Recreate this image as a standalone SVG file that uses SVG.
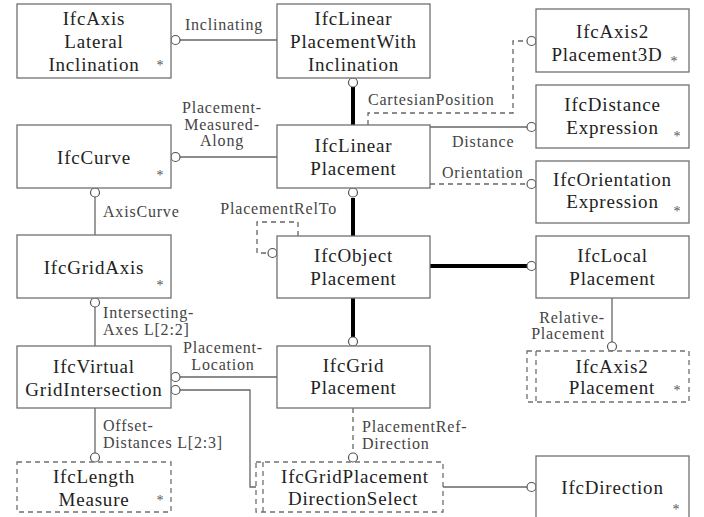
<svg xmlns="http://www.w3.org/2000/svg" width="704" height="517" viewBox="0 0 704 517">
<style>
.box{fill:#fff;stroke:#707070;stroke-width:1.3}
.dbox{fill:none;stroke:#707070;stroke-width:1.3;stroke-dasharray:5,4}
.t{font-family:"Liberation Serif","Times New Roman",serif;font-size:19px;letter-spacing:0.8px;fill:#222;text-anchor:middle}
.st{font-family:"Liberation Serif","Times New Roman",serif;font-size:14px;fill:#555;text-anchor:middle}
.l{font-family:"Liberation Serif","Times New Roman",serif;font-size:16px;letter-spacing:0.8px;fill:#444}
.c{fill:none;stroke:#666;stroke-width:1.3}
.d{fill:none;stroke:#666;stroke-width:1.3;stroke-dasharray:5,4}
.k{fill:none;stroke:#000;stroke-width:4}
.o{fill:#fff;stroke:#555;stroke-width:1.2}
</style>
<rect width="704" height="517" fill="#fff"/>
<g id="connectors">
<line class="c" x1="277" y1="40" x2="180" y2="40"/>
<circle class="o" cx="175.5" cy="40" r="4.5"/>
<text class="l" x="224" y="30" text-anchor="middle">Inclinating</text>
<line class="k" x1="353" y1="125" x2="353" y2="87"/>
<circle class="o" cx="353" cy="82.5" r="4.5"/>
<path class="d" d="M368,125 V113 H513 V41 H527"/>
<circle class="o" cx="531.5" cy="41" r="4.5"/>
<text class="l" x="368" y="105">CartesianPosition</text>
<line class="c" x1="430" y1="127" x2="527" y2="127"/>
<circle class="o" cx="531.5" cy="127" r="4.5"/>
<text class="l" x="452" y="147">Distance</text>
<line class="d" x1="430" y1="184" x2="527" y2="184"/>
<circle class="o" cx="531.5" cy="184" r="4.5"/>
<text class="l" x="442" y="178">Orientation</text>
<line class="c" x1="277" y1="157" x2="180" y2="157"/>
<circle class="o" cx="175.5" cy="157" r="4.5"/>
<text class="l" text-anchor="middle"><tspan x="222" y="113">Placement-</tspan><tspan x="222" y="130">Measured-</tspan><tspan x="222" y="146">Along</tspan></text>
<line class="c" x1="95" y1="235" x2="95" y2="197"/>
<circle class="o" cx="95" cy="192.5" r="4.5"/>
<text class="l" x="103" y="217">AxisCurve</text>
<line class="k" x1="353" y1="198" x2="353" y2="236"/>
<circle class="o" cx="353" cy="192.5" r="4.5"/>
<path class="d" d="M298,236 V222 H257 V253 H268"/>
<circle class="o" cx="272.5" cy="253" r="4.5"/>
<text class="l" x="337" y="214" text-anchor="end">PlacementRelTo</text>
<line class="k" x1="430" y1="266" x2="527" y2="266"/>
<circle class="o" cx="531.5" cy="266" r="4.5"/>
<line class="k" x1="353" y1="298" x2="353" y2="337"/>
<circle class="o" cx="353" cy="341.5" r="4.5"/>
<line class="c" x1="612" y1="298" x2="612" y2="342"/>
<circle class="o" cx="612" cy="346.5" r="4.5"/>
<text class="l" text-anchor="end"><tspan x="605" y="323">Relative-</tspan><tspan x="605" y="339">Placement</tspan></text>
<line class="c" x1="95" y1="346" x2="95" y2="307"/>
<circle class="o" cx="95" cy="302.5" r="4.5"/>
<text class="l"><tspan x="103" y="318">Intersecting-</tspan><tspan x="103" y="335">Axes L[2:2]</tspan></text>
<line class="c" x1="277" y1="377" x2="180" y2="377"/>
<circle class="o" cx="175.5" cy="377" r="4.5"/>
<text class="l" text-anchor="middle"><tspan x="223" y="353">Placement-</tspan><tspan x="223" y="370">Location</tspan></text>
<path class="c" d="M180,390 H250 V487 H256"/>
<circle class="o" cx="175.5" cy="390" r="4.5"/>
<line class="d" x1="353" y1="408" x2="353" y2="453"/>
<circle class="o" cx="353" cy="457.5" r="4.5"/>
<text class="l"><tspan x="362" y="432">PlacementRef-</tspan><tspan x="362" y="449">Direction</tspan></text>
<line class="c" x1="443" y1="487" x2="527" y2="487"/>
<circle class="o" cx="531.5" cy="487" r="4.5"/>
<line class="c" x1="95" y1="408" x2="95" y2="453"/>
<circle class="o" cx="95" cy="457.5" r="4.5"/>
<text class="l"><tspan x="103" y="431">Offset-</tspan><tspan x="103" y="448">Distances L[2:3]</tspan></text>
</g>
<g id="IfcAxisLateralInclination">
<rect class="box" x="17" y="4" width="154" height="74"/>
<text class="t"><tspan x="94" y="25">IfcAxis</tspan><tspan x="94" y="48">Lateral</tspan><tspan x="94" y="71">Inclination</tspan></text>
<text class="st" x="160" y="70">*</text>
</g>
<g id="IfcLinearPlacementWithInclination">
<rect class="box" x="277" y="4" width="153" height="74"/>
<text class="t"><tspan x="353.5" y="25">IfcLinear</tspan><tspan x="353.5" y="48">PlacementWith</tspan><tspan x="353.5" y="71">Inclination</tspan></text>
</g>
<g id="IfcAxis2Placement3D">
<rect class="box" x="536" y="9" width="153" height="63"/>
<text class="t"><tspan x="612.5" y="38">IfcAxis2</tspan><tspan x="607" y="61">Placement3D</tspan></text>
<text class="st" x="674" y="66">*</text>
</g>
<g id="IfcDistanceExpression">
<rect class="box" x="536" y="85" width="153" height="63"/>
<text class="t"><tspan x="612.5" y="111">IfcDistance</tspan><tspan x="612.5" y="134">Expression</tspan></text>
<text class="st" x="677" y="141">*</text>
</g>
<g id="IfcOrientationExpression">
<rect class="box" x="536" y="161" width="153" height="62"/>
<text class="t"><tspan x="612.5" y="186">IfcOrientation</tspan><tspan x="612.5" y="208">Expression</tspan></text>
<text class="st" x="677" y="216">*</text>
</g>
<g id="IfcCurve">
<rect class="box" x="17" y="125" width="154" height="63"/>
<text class="t" x="94" y="164">IfcCurve</text>
<text class="st" x="160" y="180">*</text>
</g>
<g id="IfcLinearPlacement">
<rect class="box" x="277" y="125" width="153" height="63"/>
<text class="t"><tspan x="353.5" y="152">IfcLinear</tspan><tspan x="353.5" y="175">Placement</tspan></text>
</g>
<g id="IfcGridAxis">
<rect class="box" x="17" y="235" width="154" height="63"/>
<text class="t" x="94" y="274">IfcGridAxis</text>
<text class="st" x="160" y="290">*</text>
</g>
<g id="IfcObjectPlacement">
<rect class="box" x="277" y="236" width="153" height="62"/>
<text class="t"><tspan x="353.5" y="262">IfcObject</tspan><tspan x="353.5" y="285">Placement</tspan></text>
</g>
<g id="IfcLocalPlacement">
<rect class="box" x="536" y="236" width="153" height="62"/>
<text class="t"><tspan x="612.5" y="262">IfcLocal</tspan><tspan x="612.5" y="285">Placement</tspan></text>
</g>
<g id="IfcAxis2Placement">
<rect class="dbox" x="527" y="351" width="162" height="51"/>
<line class="dbox" x1="536" y1="351" x2="536" y2="402"/>
<text class="t"><tspan x="612" y="373">IfcAxis2</tspan><tspan x="612" y="394">Placement</tspan></text>
<text class="st" x="677" y="395">*</text>
</g>
<g id="IfcVirtualGridIntersection">
<rect class="box" x="17" y="346" width="154" height="62"/>
<text class="t"><tspan x="94" y="373">IfcVirtual</tspan><tspan x="94" y="396">GridIntersection</tspan></text>
</g>
<g id="IfcGridPlacement">
<rect class="box" x="277" y="346" width="153" height="62"/>
<text class="t"><tspan x="353.5" y="372">IfcGrid</tspan><tspan x="353.5" y="394">Placement</tspan></text>
</g>
<g id="IfcLengthMeasure">
<rect class="dbox" x="17" y="462" width="154" height="50"/>
<text class="t"><tspan x="94" y="483">IfcLength</tspan><tspan x="94" y="506">Measure</tspan></text>
<text class="st" x="160" y="505">*</text>
</g>
<g id="IfcGridPlacementDirectionSelect">
<rect class="dbox" x="256" y="462" width="187" height="50"/>
<line class="dbox" x1="263" y1="462" x2="263" y2="512"/>
<text class="t"><tspan x="355" y="483">IfcGridPlacement</tspan><tspan x="353" y="505">DirectionSelect</tspan></text>
</g>
<g id="IfcDirection">
<rect class="box" x="536" y="456" width="153" height="70"/>
<text class="t" x="612.5" y="494">IfcDirection</text>
<text class="st" x="676" y="514">*</text>
</g>
</svg>
